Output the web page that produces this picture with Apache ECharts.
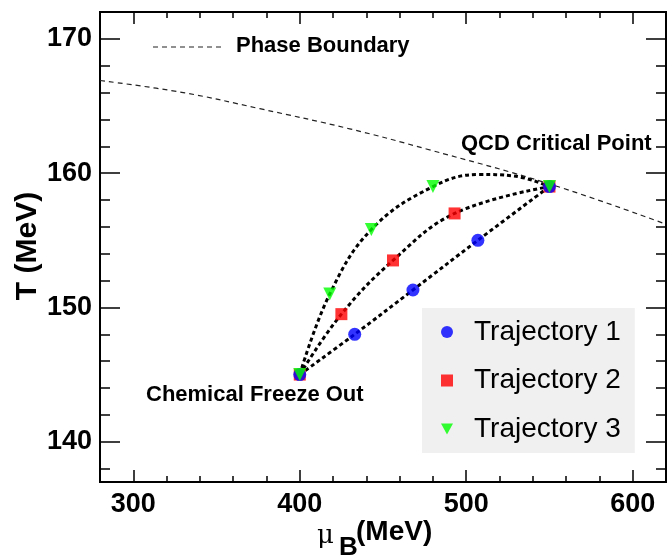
<!DOCTYPE html>
<html>
<head>
<meta charset="utf-8">
<script src="https://cdn.jsdelivr.net/npm/echarts@6/dist/echarts.min.js"></script>
<style>html,body{margin:0;padding:0;background:#fff}#c{width:667px;height:556px}</style>
</head>
<body>
<div id="c"></div>
<script>
// ---- data ----
const traj1 = [[400,145],[433,148],[468,151.3],[507,155],[550,159]];
const traj2 = [[400,145],[425,149.5],[456,153.5],[493,157],[550,159]];
const traj3 = [[400,145],[418,151],[443,155.8],[480,159],[550,159]];
// dotted curves (trajectory 3 curve has extra points read along its arc)
const curve1 = traj1;
const curve2 = traj2;
const curve3 = [[400,145],[418,151],[443,155.8],[480,159],[508,159.9],[528,159.8],[550,159]];
const phaseBoundary = [[280,166.9],[330,166.0],[376,164.8],[430,163.3],[476,161.8],[550,159.2],[620,156.2]];
const seriesNames = ['Trajectory 1','Trajectory 2','Trajectory 3'];
// ticks
const xMajor = [300,400,500,600];
const xMinor = [280,300,320,340,360,380,400,420,440,460,480,500,520,540,560,580,600,620];
const yMajor = [140,150,160,170];
const yMinor = [138,140,142,144,146,148,150,152,154,156,158,160,162,164,166,168,170,172];

const FONT = '"Liberation Sans", Arial, Helvetica, sans-serif';
const chart = echarts.init(document.getElementById('c'), null, {renderer:'canvas'});

function xAx(pos, vals, len, labels){
  return {type:'value', min:280, max:620, position:pos,
    axisLine:{show:true, onZero:false, lineStyle:{color:'#000', width:2}},
    axisTick:{show:true, inside:true, length:len, customValues:vals, lineStyle:{color:'#000', width:1.5}},
    axisLabel: labels ? {show:true, customValues:xMajor, margin:9, fontSize:27, fontWeight:'bold', fontFamily:FONT, color:'#000'} : {show:false},
    splitLine:{show:false}};
}
function yAx(pos, vals, len, labels){
  return {type:'value', min:137, max:172, position:pos,
    axisLine:{show:true, onZero:false, lineStyle:{color:'#000', width:2}},
    axisTick:{show:true, inside:true, length:len, customValues:vals, lineStyle:{color:'#000', width:1.5}},
    axisLabel: labels ? {show:true, customValues:yMajor, margin:8, fontSize:27, fontWeight:'bold', fontFamily:FONT, color:'#000'} : {show:false},
    splitLine:{show:false}};
}

const curveStyle = {color:'#000', width:3, type:[4,3]};

chart.setOption({
  animation:false,
  backgroundColor:'#fff',
  grid:{left:100, right:1, top:12, bottom:74, containLabel:false},
  xAxis:[xAx('bottom', xMajor, 12, true), xAx('bottom', xMinor, 6, false), xAx('top', xMajor, 12, false), xAx('top', xMinor, 6, false)],
  yAxis:[yAx('left', yMajor, 20, true), yAx('left', yMinor, 10, false), yAx('right', yMajor, 20, false), yAx('right', yMinor, 10, false)],
  legend:{
    data: [
      {name:seriesNames[0], icon:'circle'},
      {name:seriesNames[1], icon:'rect'},
      {name:seriesNames[2], icon:'path://M0,0 L10,0 L5,9 Z'}
    ],
    orient:'vertical', left:422, top:308,
    itemWidth:12, itemHeight:12, itemGap:18.5,
    backgroundColor:'#f0f0f0', padding:[9,14,9,19],
    selectedMode:false,
    textStyle:{fontSize:28, fontFamily:FONT, color:'#000', lineHeight:30, padding:[0,0,0,16]}
  },
  series:[
    {type:'line', name:'Phase Boundary', data:phaseBoundary, smooth:0.4, symbol:'none', lineStyle:{color:'#222', width:1.2, type:[5,4]}, z:1},
    {type:'line', name:'c1', data:curve1, smooth:0.4, symbol:'none', lineStyle:curveStyle, z:2},
    {type:'line', name:'c2', data:curve2, smooth:0.4, symbol:'none', lineStyle:curveStyle, z:2},
    {type:'line', name:'c3', data:curve3, smooth:0.4, symbol:'none', lineStyle:curveStyle, z:2},
    {type:'scatter', name:seriesNames[1], data:traj2, symbol:'rect', symbolSize:12, itemStyle:{color:'#ff0000'}, z:3},
    {type:'scatter', name:seriesNames[0], data:traj1, symbol:'circle', symbolSize:13, itemStyle:{color:'#0000ff'}, z:4},
    {type:'scatter', name:seriesNames[2], data:traj3, symbol:'triangle', symbolRotate:180, symbolSize:13, itemStyle:{color:'#00ff00'}, z:5}
  ],
  graphic:[
    {type:'line', shape:{x1:153, y1:47, x2:223, y2:47}, style:{stroke:'#222', lineWidth:1.2, lineDash:[5,4]}},
    {type:'text', left:236, top:35, style:{text:'Phase Boundary', font:'bold 22px '+FONT, fill:'#000'}},
    {type:'text', left:461, top:133, style:{text:'QCD Critical Point', font:'bold 22px '+FONT, fill:'#000'}},
    {type:'text', left:146, top:384, style:{text:'Chemical Freeze Out', font:'bold 22px '+FONT, fill:'#000'}},
    {type:'text', x:28, y:246, rotation:Math.PI/2, style:{text:'T (MeV)', font:'bold 30px '+FONT, fill:'#000', align:'center', verticalAlign:'middle'}},
    {type:'text', x:317, y:536, style:{text:'μ', font:'26px "DejaVu Serif", serif', fill:'#000', align:'left', verticalAlign:'middle'}},
    {type:'text', x:339, y:548, style:{text:'B', font:'bold 26px '+FONT, fill:'#000', align:'left', verticalAlign:'middle'}},
    {type:'text', x:356, y:532, style:{text:'(MeV)', font:'bold 28px '+FONT, fill:'#000', align:'left', verticalAlign:'middle'}}
  ]
});
</script>
</body>
</html>
